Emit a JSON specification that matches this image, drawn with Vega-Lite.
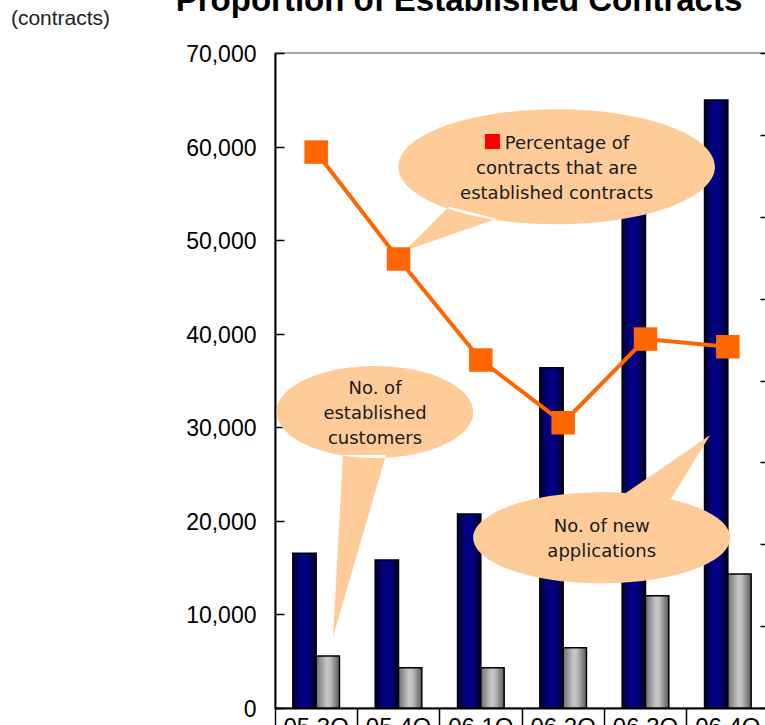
{
  "$schema": "https://vega.github.io/schema/vega-lite/v6.json",
  "width": 494,
  "height": 655,
  "autosize": {"type": "none"},
  "padding": {"left": 275, "top": 53, "right": -4, "bottom": 17},
  "background": "white",
  "title": {
    "text": "Proportion of Established Contracts",
    "font": "Liberation Sans",
    "fontSize": 33,
    "fontWeight": "bold",
    "color": "black",
    "anchor": "middle",
    "frame": "group",
    "dx": -63,
    "baseline": "alphabetic",
    "offset": -37
  },
  "config": {
    "view": {"stroke": "#8c8c8c", "strokeWidth": 1.5},
    "font": "DejaVu Sans"
  },
  "datasets": {
    "bars": [
      {"quarter": "05.3Q", "series": "new", "contracts": 16550},
      {"quarter": "05.4Q", "series": "new", "contracts": 15820},
      {"quarter": "06.1Q", "series": "new", "contracts": 20730},
      {"quarter": "06.2Q", "series": "new", "contracts": 36370},
      {"quarter": "06.3Q", "series": "new", "contracts": 53200},
      {"quarter": "06.4Q", "series": "new", "contracts": 64980},
      {"quarter": "05.3Q", "series": "established", "contracts": 5560},
      {"quarter": "05.4Q", "series": "established", "contracts": 4310},
      {"quarter": "06.1Q", "series": "established", "contracts": 4310},
      {"quarter": "06.2Q", "series": "established", "contracts": 6440},
      {"quarter": "06.3Q", "series": "established", "contracts": 12000},
      {"quarter": "06.4Q", "series": "established", "contracts": 14320}
    ],
    "ratio": [
      {"quarter": "05.3Q", "pct": 0.3395},
      {"quarter": "05.4Q", "pct": 0.2742},
      {"quarter": "06.1Q", "pct": 0.2125},
      {"quarter": "06.2Q", "pct": 0.1742},
      {"quarter": "06.3Q", "pct": 0.2253},
      {"quarter": "06.4Q", "pct": 0.2206}
    ],
    "bubbles": [
      {"bubble": "pct", "quarter": "06.2Q", "contracts": 57850},
      {"bubble": "est", "quarter": "05.4Q", "contracts": 31630},
      {"bubble": "new", "quarter": "06.3Q", "contracts": 18190}
    ],
    "notes": [
      {"bubble": "pct1", "quarter": "06.2Q", "contracts": 59708, "text": "Percentage of"},
      {"bubble": "pct", "quarter": "06.2Q", "contracts": 57069, "text": "contracts that are"},
      {"bubble": "pct", "quarter": "06.2Q", "contracts": 54396, "text": "established contracts"},
      {"bubble": "est", "quarter": "05.4Q", "contracts": 33557, "text": "No. of"},
      {"bubble": "est", "quarter": "05.4Q", "contracts": 30885, "text": "established"},
      {"bubble": "est", "quarter": "05.4Q", "contracts": 28214, "text": "customers"},
      {"bubble": "new", "quarter": "06.3Q", "contracts": 18777, "text": "No. of new"},
      {"bubble": "new", "quarter": "06.3Q", "contracts": 16169, "text": "applications"}
    ],
    "marker": [
      {"quarter": "06.2Q", "contracts": 60542}
    ]
  },
  "layer": [
    {
      "layer": [
        {
          "data": {"name": "bars"},
          "transform": [{"filter": "datum.series === 'new'"}],
          "mark": {
            "type": "bar",
            "stroke": "black",
            "strokeWidth": 1.5,
            "fill": {
              "gradient": "linear", "x1": 0, "y1": 0, "x2": 1, "y2": 0,
              "stops": [
                {"offset": 0, "color": "#000030"},
                {"offset": 0.35, "color": "#000080"},
                {"offset": 0.65, "color": "#000080"},
                {"offset": 1, "color": "#000025"}
              ]
            }
          },
          "encoding": {
            "x": {
              "field": "quarter", "type": "nominal",
              "scale": {"domain": ["05.3Q", "05.4Q", "06.1Q", "06.2Q", "06.3Q", "06.4Q"], "paddingInner": 0, "paddingOuter": 0},
              "axis": {
                "title": null, "labelAngle": 0, "bandPosition": 0,
                "tickSize": 25, "tickColor": "black", "tickWidth": 1.5,
                "domainColor": "black", "domainWidth": 2,
                "labelFont": "Liberation Sans", "labelFontSize": 24, "labelColor": "black",
                "labelBaseline": "top", "labelPadding": -17.5
              }
            },
            "xOffset": {
              "field": "series", "type": "nominal",
              "scale": {"domain": ["new", "established"], "paddingInner": 0, "paddingOuter": 0.766}
            },
            "y": {
              "field": "contracts", "type": "quantitative",
              "scale": {"domain": [0, 70000], "nice": false},
              "axis": {
                "orient": "left",
                "values": [0, 10000, 20000, 30000, 40000, 50000, 60000, 70000],
                "format": ",d",
                "tickSize": -9, "tickColor": "black", "tickWidth": 1.5,
                "domainColor": "black", "domainWidth": 2,
                "labelFont": "Liberation Sans", "labelFontSize": 23, "labelColor": "black",
                "labelPadding": 28, "labelFlush": false, "labelOffset": 1.5, "grid": false,
                "title": "(contracts)", "titleAngle": 0, "titleX": -215, "titleY": -35,
                "titleAlign": "center", "titleBaseline": "middle",
                "titleFont": "Liberation Sans", "titleFontSize": 21, "titleFontWeight": "normal", "titleColor": "#222222"
              }
            }
          }
        },
        {
          "data": {"name": "bars"},
          "transform": [{"filter": "datum.series === 'established'"}],
          "mark": {
            "type": "bar",
            "stroke": "black",
            "strokeWidth": 1.5,
            "fill": {
              "gradient": "linear", "x1": 0, "y1": 0, "x2": 1, "y2": 0,
              "stops": [
                {"offset": 0, "color": "#6e6e6e"},
                {"offset": 0.45, "color": "#c8c8c8"},
                {"offset": 0.6, "color": "#bebebe"},
                {"offset": 1, "color": "#5a5a5a"}
              ]
            }
          },
          "encoding": {
            "x": {"field": "quarter", "type": "nominal"},
            "xOffset": {"field": "series", "type": "nominal"},
            "y": {"field": "contracts", "type": "quantitative"}
          }
        },
        {
          "data": {"name": "bubbles"},
          "transform": [{"filter": "datum.bubble === 'pct'"}],
          "mark": {
            "type": "point", "filled": true, "opacity": 1, "color": "#FFCC99", "strokeWidth": 0, "size": 4, "xOffset": -6.5,
            "shape": "M -158.3 0 A 158.3 57.5 0 1 1 158.3 0 A 158.3 57.5 0 1 1 -158.3 0 Z M -108 40 L -151.7 84 L -60 52 Z"
          },
          "encoding": {
            "x": {"field": "quarter", "type": "nominal"},
            "y": {"field": "contracts", "type": "quantitative"}
          }
        },
        {
          "data": {"name": "bubbles"},
          "transform": [{"filter": "datum.bubble === 'est'"}],
          "mark": {
            "type": "point", "filled": true, "opacity": 1, "color": "#FFCC99", "strokeWidth": 0, "size": 4, "xOffset": -23.5,
            "shape": "M -98.3 0 A 98.3 46 0 1 1 98.3 0 A 98.3 46 0 1 1 -98.3 0 Z M -32 43 L -42 225 L 11 43 Z"
          },
          "encoding": {
            "x": {"field": "quarter", "type": "nominal"},
            "y": {"field": "contracts", "type": "quantitative"}
          }
        },
        {
          "data": {"name": "bubbles"},
          "transform": [{"filter": "datum.bubble === 'new'"}],
          "mark": {
            "type": "point", "filled": true, "opacity": 1, "color": "#FFCC99", "strokeWidth": 0, "size": 4, "xOffset": -43.8,
            "shape": "M -128.5 0 A 128.5 45.5 0 1 1 128.5 0 A 128.5 45.5 0 1 1 -128.5 0 Z M 21.5 -43 L 108.5 -102.8 L 68.5 -37.8 Z"
          },
          "encoding": {
            "x": {"field": "quarter", "type": "nominal"},
            "y": {"field": "contracts", "type": "quantitative"}
          }
        },
        {
          "data": {"name": "notes"},
          "transform": [{"filter": "datum.bubble === 'pct1'"}],
          "mark": {"type": "text", "align": "center", "baseline": "alphabetic", "font": "DejaVu Sans", "fontSize": 18, "color": "#1a1a1a", "xOffset": 3.8},
          "encoding": {
            "x": {"field": "quarter", "type": "nominal"},
            "y": {"field": "contracts", "type": "quantitative"},
            "text": {"field": "text"}
          }
        },
        {
          "data": {"name": "notes"},
          "transform": [{"filter": "datum.bubble === 'pct'"}],
          "mark": {"type": "text", "align": "center", "baseline": "alphabetic", "font": "DejaVu Sans", "fontSize": 18, "color": "#1a1a1a", "xOffset": -6.5},
          "encoding": {
            "x": {"field": "quarter", "type": "nominal"},
            "y": {"field": "contracts", "type": "quantitative"},
            "text": {"field": "text"}
          }
        },
        {
          "data": {"name": "notes"},
          "transform": [{"filter": "datum.bubble === 'est'"}],
          "mark": {"type": "text", "align": "center", "baseline": "alphabetic", "font": "DejaVu Sans", "fontSize": 18, "color": "#1a1a1a", "xOffset": -23.5},
          "encoding": {
            "x": {"field": "quarter", "type": "nominal"},
            "y": {"field": "contracts", "type": "quantitative"},
            "text": {"field": "text"}
          }
        },
        {
          "data": {"name": "notes"},
          "transform": [{"filter": "datum.bubble === 'new'"}],
          "mark": {"type": "text", "align": "center", "baseline": "alphabetic", "font": "DejaVu Sans", "fontSize": 18, "color": "#1a1a1a", "xOffset": -43.8},
          "encoding": {
            "x": {"field": "quarter", "type": "nominal"},
            "y": {"field": "contracts", "type": "quantitative"},
            "text": {"field": "text"}
          }
        },
        {
          "data": {"name": "marker"},
          "mark": {"type": "point", "shape": "square", "filled": true, "opacity": 1, "color": "#FF0000", "size": 225, "strokeWidth": 0, "xOffset": -70.7},
          "encoding": {
            "x": {"field": "quarter", "type": "nominal"},
            "y": {"field": "contracts", "type": "quantitative"}
          }
        }
      ]
    },
    {
      "data": {"name": "ratio"},
      "layer": [
        {
          "mark": {"type": "line", "color": "#FF6600", "strokeWidth": 4},
          "encoding": {
            "x": {"field": "quarter", "type": "nominal"},
            "y": {
              "field": "pct", "type": "quantitative",
              "scale": {"domain": [0, 0.4], "nice": false},
              "axis": {
                "orient": "right",
                "values": [0, 0.05, 0.1, 0.15, 0.2, 0.25, 0.3, 0.35, 0.4],
                "format": ".0%",
                "tickSize": -9, "tickColor": "black", "tickWidth": 1.5,
                "domainColor": "black", "domainWidth": 2,
                "labelFont": "Liberation Sans", "labelFontSize": 23, "labelColor": "black",
                "labelPadding": 28, "grid": false, "title": null
              }
            }
          }
        },
        {
          "mark": {"type": "point", "shape": "square", "filled": true, "opacity": 1, "color": "#FF6600", "size": 552, "strokeWidth": 0},
          "encoding": {
            "x": {"field": "quarter", "type": "nominal"},
            "y": {"field": "pct", "type": "quantitative"}
          }
        }
      ]
    }
  ],
  "resolve": {"scale": {"y": "independent"}}
}
